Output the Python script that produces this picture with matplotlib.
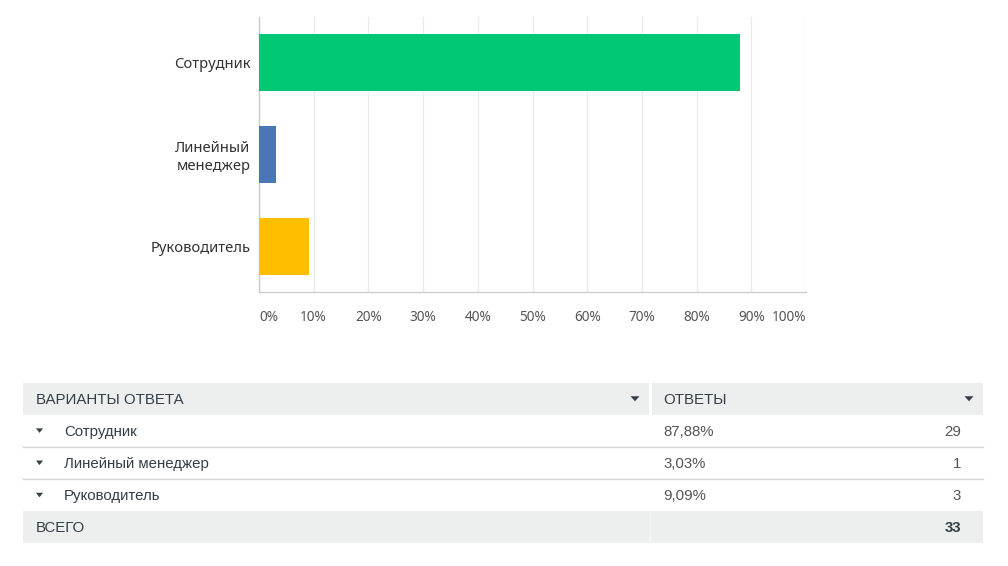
import matplotlib
matplotlib.use("Agg")
from matplotlib import pyplot as plt
from matplotlib.patches import Rectangle, Polygon

# data
categories = ["Сотрудник", "Линейный\nменеджер", "Руководитель"]
table_names = ["Сотрудник", "Линейный менеджер", "Руководитель"]
shares = [87.88, 3.03, 9.09]
counts = [29, 1, 3]
share_labels = ["87,88%", "3,03%", "9,09%"]
bar_colors = ["#00C875", "#4A76B8", "#FFBE00"]
x_ticks = list(range(0, 101, 10))
x_tick_labels = [f"{t}%" for t in x_ticks]
head_left = "ВАРИАНТЫ ОТВЕТА"
head_right = "ОТВЕТЫ"
total_label = "ВСЕГО"

W, H = 1008, 566
fig = plt.figure(figsize=(W / 100, H / 100), dpi=100)
fig.patch.set_facecolor("white")

# bar chart
ax = fig.add_axes([259 / W, 1 - 292 / H, (806 - 259) / W, (292 - 17) / H])
ypos = list(range(len(categories)))
ax.barh(ypos, shares, height=0.62, color=bar_colors, zorder=3)
ax.set_xlim(0, 100)
ax.set_ylim(len(categories) - 0.5, -0.5)
ax.set_yticks(ypos)
ax.set_yticklabels(categories, fontsize=10.6, color="#333333",
                   family=["Noto Sans", "DejaVu Sans"], linespacing=1.25)
ax.set_xticks(x_ticks)
ax.set_xticklabels(x_tick_labels, fontsize=9.8, color="#555555",
                   family=["Noto Sans", "DejaVu Sans"])
xt = ax.get_xticklabels()
xt[0].set_horizontalalignment("left")
xt[-1].set_horizontalalignment("right")
ax.tick_params(axis="x", length=0, pad=13)
ax.tick_params(axis="y", length=0, pad=6)
ax.grid(axis="x", color="#EBEBEB", linewidth=1, zorder=0)
for s in ["top", "right"]:
    ax.spines[s].set_visible(False)
for s in ["left", "bottom"]:
    ax.spines[s].set_color("#CCCCCC")
    ax.spines[s].set_linewidth(1)

# table drawn in pixel coordinates
tx = fig.add_axes([0, 0, 1, 1])
tx.set_xlim(0, W)
tx.set_ylim(H, 0)
tx.axis("off")

left, right, split = 23, 983, 649
grey = "#EDEFEF"
txt = "#333E48"
font = ["Liberation Sans", "DejaVu Sans"]
fs = 10.8
dy = 1.2  # text sits a touch lower than the geometric centre


def tri(cx, cy, w=7, h=4.5):
    tx.add_patch(Polygon([(cx - w / 2, cy - h / 2), (cx + w / 2, cy - h / 2),
                          (cx, cy + h / 2)], closed=True, color=txt, lw=0))


# header row
top, rh = 383, 31.5
tx.add_patch(Rectangle((left, top), split - left, rh, color=grey, lw=0))
tx.add_patch(Rectangle((split + 2.5, top), right - split - 2.5, rh, color=grey, lw=0))
cy = top + rh / 2
tx.text(36, cy + dy, head_left, fontsize=fs, color=txt, family=font, va="center")
tx.text(663, cy + dy, head_right, fontsize=fs, color=txt, family=font, va="center")
tri(635, cy, 9, 5)
tri(969, cy, 9, 5)

# answer rows
y = top + rh
row_h = 32.2
for i, name in enumerate(table_names):
    cy = y + row_h / 2
    tri(39.5, cy)
    tx.text(64, cy + dy, name, fontsize=fs, color=txt, family=font, va="center")
    tx.text(663, cy + dy, share_labels[i], fontsize=fs, color="#555555",
            family=font, va="center")
    tx.text(961, cy + dy, str(counts[i]), fontsize=fs, color="#555555",
            family=font, va="center", ha="right")
    y += row_h
    if i < len(table_names) - 1:
        tx.plot([left, right], [y, y], color="#D3D3D3", lw=1)

# total row
tx.add_patch(Rectangle((left, y), right - left, 31.5, color=grey, lw=0))
tx.plot([split + 1, split + 1], [y, y + 31.5], color="#F4F5F5", lw=1)
cy = y + 31.5 / 2
tx.text(36, cy + dy, total_label, fontsize=fs, color=txt, family=font, va="center")
tx.text(961, cy + dy, str(sum(counts)), fontsize=fs, color=txt, family=font,
        va="center", ha="right", weight="bold")

fig.savefig("out.png", dpi=100)
